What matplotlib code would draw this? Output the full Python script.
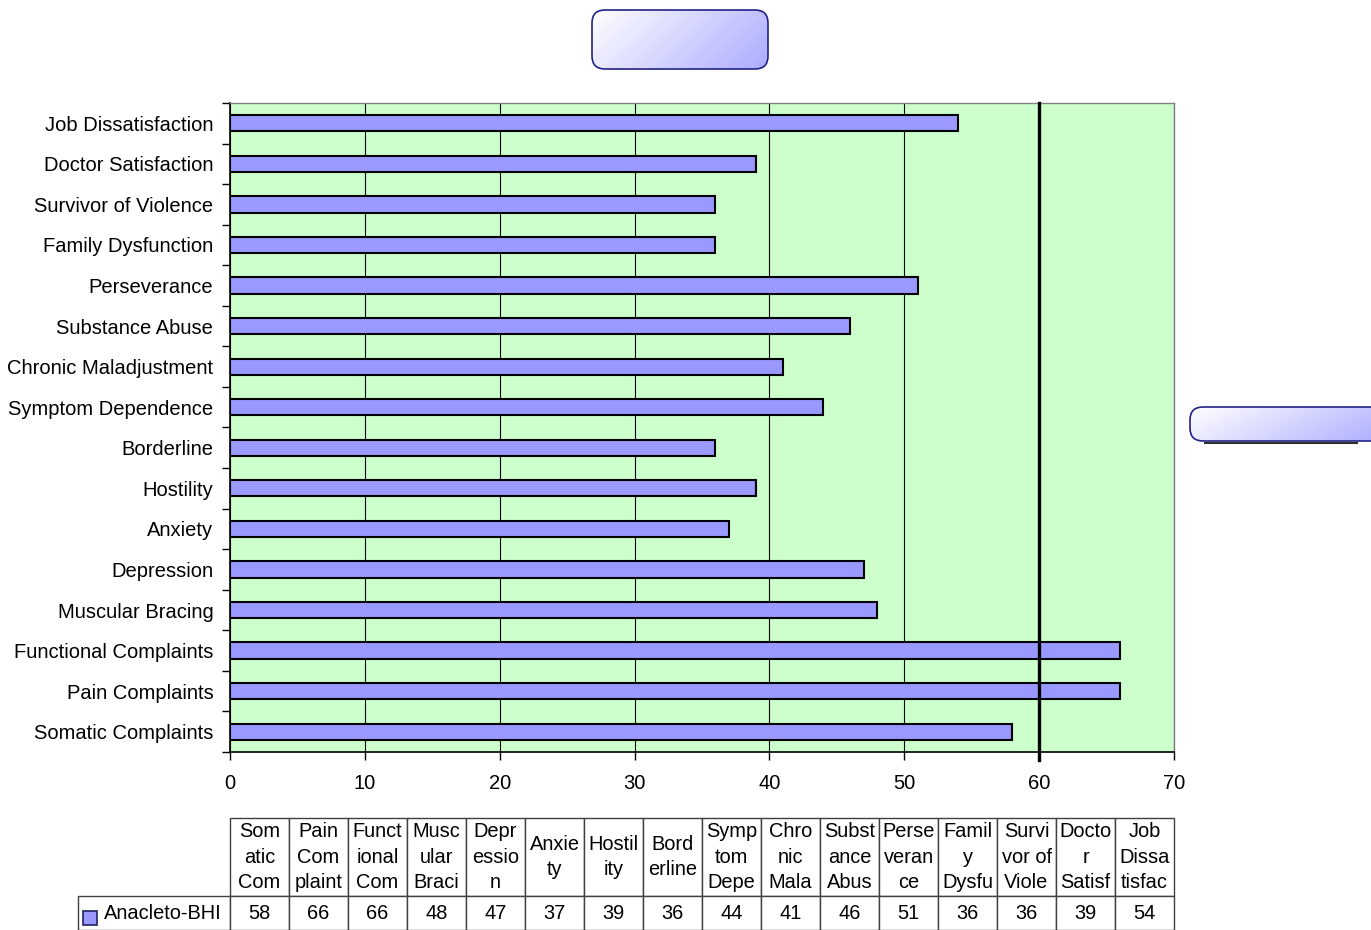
import numpy as np
import matplotlib.pyplot as plt
from matplotlib.patches import FancyBboxPatch, Rectangle

plt.rcParams['font.family'] = ['Liberation Sans', 'DejaVu Sans']

categories = ['Somatic Complaints', 'Pain Complaints', 'Functional Complaints',
              'Muscular Bracing', 'Depression', 'Anxiety', 'Hostility',
              'Borderline', 'Symptom Dependence', 'Chronic Maladjustment',
              'Substance Abuse', 'Perseverance', 'Family Dysfunction',
              'Survivor of Violence', 'Doctor Satisfaction', 'Job Dissatisfaction']
values = [58, 66, 66, 48, 47, 37, 39, 36, 44, 41, 46, 51, 36, 36, 39, 54]
table_heads = ['Som\natic\nCom', 'Pain\nCom\nplaint', 'Funct\nional\nCom',
               'Musc\nular\nBraci', 'Depr\nessio\nn', 'Anxie\nty', 'Hostil\nity',
               'Bord\nerline', 'Symp\ntom\nDepe', 'Chro\nnic\nMala',
               'Subst\nance\nAbus', 'Perse\nveran\nce', 'Famil\ny\nDysfu',
               'Survi\nvor of\nViole', 'Docto\nr\nSatisf', 'Job\nDissa\ntisfac']
series_name = 'Anacleto-BHI'
cutoff = 60

bar_color = '#9999FF'
bg_color = '#CCFFCC'

fig = plt.figure(figsize=(13.71, 9.30), dpi=100)
ax = fig.add_axes([230/1371, 1-752/930, 944/1371, 649/930])
ax.set_facecolor(bg_color)

y = np.arange(len(categories))
ax.barh(y, values, height=0.4, color=bar_color, edgecolor='black', linewidth=1.5, zorder=3)
ax.axvline(cutoff, color='black', linewidth=2.4, zorder=4, ymin=-0.012, clip_on=False)

ax.set_xlim(0, 70)
ax.set_ylim(-0.5, len(categories) - 0.5)
ax.set_xticks(range(0, 71, 10))
ax.xaxis.grid(True, color='black', linewidth=0.8, zorder=1)
ax.set_axisbelow(True)

ax.set_yticks(np.arange(-0.5, len(categories), 1))
ax.set_yticklabels([])
ax.set_yticks(y, minor=True)
ax.set_yticklabels(categories, minor=True)
ax.tick_params(axis='y', which='minor', length=0, pad=12, labelsize=14.5)
ax.tick_params(axis='y', which='major', length=6, width=1, color='black')
ax.tick_params(axis='x', length=6, width=1, labelsize=14.5, pad=10)

for s in ['top', 'right']:
    ax.spines[s].set_color('#808080')
    ax.spines[s].set_linewidth(1)
for s in ['left', 'bottom']:
    ax.spines[s].set_color('black')
    ax.spines[s].set_linewidth(1.2)

# data table below the chart; the series name sits in an extra first column
tb = ax.table(cellText=[[series_name] + [str(v) for v in values]],
              colLabels=[''] + table_heads, cellLoc='center',
              bbox=[(78-230)/944, (752-930)/649, (1174-78)/944, (930-818)/649])
tb.auto_set_font_size(False)
for (r, c), cell in tb.get_celld().items():
    cell.set_edgecolor('#404040')
    cell.set_linewidth(1)
    cell.get_text().set_fontsize(14.4)
    cell.set_width(152 if c == 0 else 59)
    cell.set_height(78 if r == 0 else 34)
    if r == 0:
        cell.get_text().set_linespacing(1.45)
    if c == 0:
        cell.PAD = 0.055
        cell.get_text().set_horizontalalignment('right')
        if r == 0:
            cell.visible_edges = ''
        else:
            cell._loc = 'right'

# legend key in the table row
fig.patches.append(Rectangle((83/1371, 1-925/930), 14/1371, 14/930, transform=fig.transFigure,
                             facecolor=bar_color, edgecolor='#222266', linewidth=1.2, zorder=10))


def gradient_box(x0, y0, w, h, shadow=False):
    bax = fig.add_axes([x0/1371, 1-(y0+h+4)/930, (w+2)/1371, (h+6)/930])
    bax.set_xlim(-1, w+1)
    bax.set_ylim(-4, h+2)
    bax.axis('off')
    gx, gy = np.meshgrid(np.linspace(0, 1, 200), np.linspace(0, 1, 60))
    t = np.clip(0.75*gx + 0.25*gy, 0, 1)
    img = np.zeros((60, 200, 3))
    c0 = np.array([1.0, 1.0, 1.0])
    c1 = np.array([0.67, 0.67, 1.0])
    for k in range(3):
        img[..., k] = c0[k] + (c1[k]-c0[k])*t
    if shadow:
        bax.plot([15, w-33], [-2, -2], color='#303030', lw=1.5)
    im = bax.imshow(img, extent=[0, w, 0, h], aspect='auto', origin='upper')
    patch = FancyBboxPatch((0, 0), w, h, boxstyle='round,pad=0,rounding_size=13',
                           facecolor='none', edgecolor='#222288',
                           linewidth=1.2, transform=bax.transData)
    bax.add_patch(patch)
    im.set_clip_path(patch)


gradient_box(591, 10, 176, 59)
gradient_box(1189, 407, 200, 34, shadow=True)

fig.savefig('out.png', dpi=100)
